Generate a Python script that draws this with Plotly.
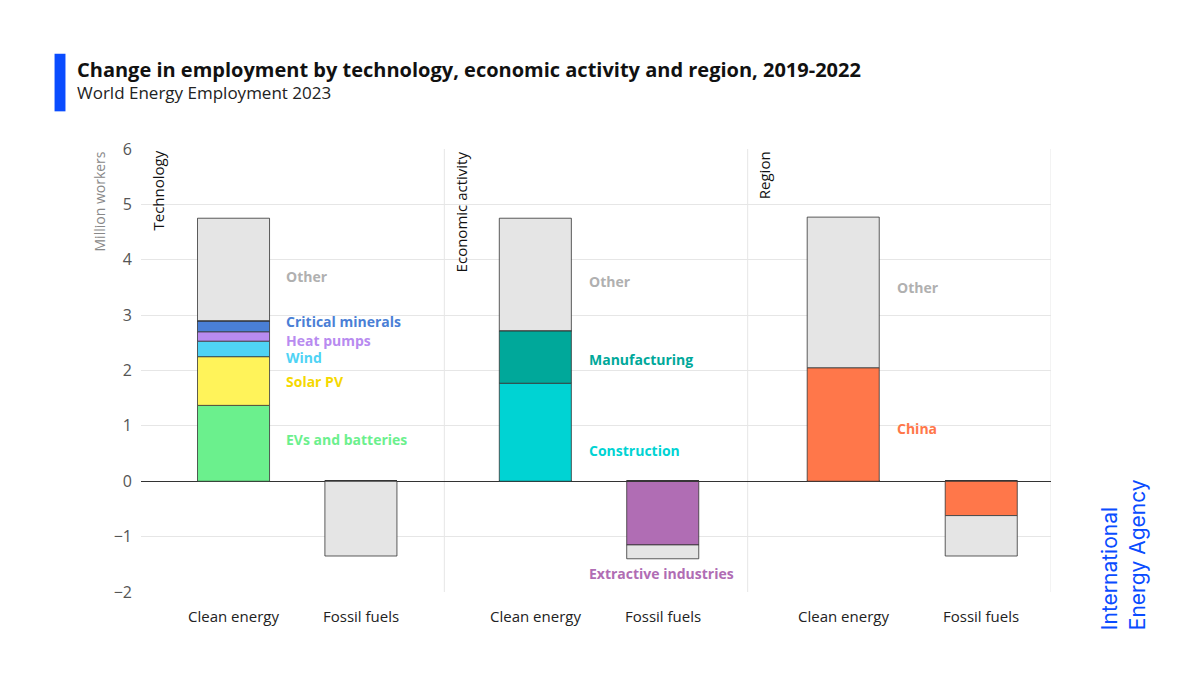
import plotly.graph_objects as go

# bar positions on a 0-6 numeric axis (two bars per panel)
positions = [0.61, 1.45, 2.60, 3.44, 4.63, 5.54]
x_labels = ["Clean energy", "Fossil fuels"] * 3
panel_titles = ["Technology", "Economic activity", "Region"]

# (label, colour, values per position)
segments = [
    ("EVs and batteries", "#6bf08d", [1.37, 0, 0, 0, 0, 0]),
    ("Solar PV", "#fff35a", [0.88, 0, 0, 0, 0, 0]),
    ("Wind", "#4fd3f5", [0.28, 0, 0, 0, 0, 0]),
    ("Heat pumps", "#b88bf0", [0.17, 0, 0, 0, 0, 0]),
    ("Critical minerals", "#4a7fd6", [0.20, 0, 0, 0, 0, 0]),
    ("Construction", "#00d3d3", [0, 0, 1.77, 0, 0, 0]),
    ("Manufacturing", "#00a89a", [0, 0, 0.95, 0, 0, 0]),
    ("Extractive industries", "#b06db4", [0, 0, 0, -1.15, 0, 0]),
    ("China", "#ff774a", [0, 0, 0, 0, 2.05, -0.62]),
    ("Other", "#e5e5e5", [1.85, -1.35, 2.03, -0.25, 2.72, -0.73]),
]

# segment labels: text, colour, x, y
seg_labels = [
    ("Other", "#b0b0b0", 0.94, 3.7),
    ("Critical minerals", "#4a7fd6", 0.94, 2.88),
    ("Heat pumps", "#b88bf0", 0.94, 2.55),
    ("Wind", "#4fd3f5", 0.94, 2.24),
    ("Solar PV", "#f5d800", 0.94, 1.8),
    ("EVs and batteries", "#6bf08d", 0.94, 0.75),
    ("Other", "#b0b0b0", 2.94, 3.6),
    ("Manufacturing", "#00a89a", 2.94, 2.2),
    ("Construction", "#00d3d3", 2.94, 0.55),
    ("Extractive industries", "#b06db4", 2.94, -1.67),
    ("China", "#ff774a", 4.97, 0.95),
    ("Other", "#b0b0b0", 4.97, 3.5),
]

fig = go.Figure()
for name, color, vals in segments:
    fig.add_trace(go.Bar(
        x=positions, y=vals, width=0.475, marker=dict(color=color, line=dict(color="#333333", width=0.8)),
        name=name, showlegend=False, hoverinfo="skip",
    ))

for text, color, x, y in seg_labels:
    fig.add_annotation(x=x, y=y, text=f"<b>{text}</b>", showarrow=False, xanchor="left",
                       font=dict(color=color, size=14, family="Open Sans"))

for i, t in enumerate(panel_titles):
    fig.add_annotation(x=i * 2 + 0.03, y=6, text=t, textangle=-90, showarrow=False,
                       xanchor="left", yanchor="top", font=dict(size=15, color="#111111", family="Open Sans"))

for b in [2, 4, 6]:
    fig.add_shape(type="line", x0=b, x1=b, y0=-2, y1=6, xref="x", yref="y",
                  line=dict(color="#e6e6e6", width=1), layer="below")

for x, lab in zip(positions, x_labels):
    fig.add_annotation(x=x, y=-2, yshift=-24, text=lab, showarrow=False,
                       font=dict(size=15, color="#222222", family="Open Sans"))

fig.add_annotation(xref="paper", yref="paper", x=-0.033, y=1.0, xanchor="right", yanchor="top",
                   text="Million workers", textangle=-90, showarrow=False,
                   font=dict(size=14, color="#888888", family="Open Sans"))

fig.add_shape(type="rect", xref="paper", yref="paper", x0=-0.095, x1=-0.083, y0=1.215, y1=1.085,
              fillcolor="#0a4cff", line=dict(width=0))
fig.add_annotation(xref="paper", yref="paper", x=-0.072, y=1.215, xanchor="left", yanchor="top",
                   text="<b>Change in employment by technology, economic activity and region, 2019-2022</b>",
                   showarrow=False, font=dict(size=20, color="#111111", family="Open Sans"))
fig.add_annotation(xref="paper", yref="paper", x=-0.072, y=1.158, xanchor="left", yanchor="top",
                   text="World Energy Employment 2023", showarrow=False,
                   font=dict(size=17, color="#222222", family="Open Sans"))
fig.add_annotation(xref="paper", yref="paper", x=1.08, y=-0.09, xanchor="center", yanchor="bottom",
                   text="International<br>Energy Agency", textangle=-90, showarrow=False,
                   font=dict(size=21, color="#0a4cff", family="Inter"), align="left")

fig.update_layout(
    width=1200, height=675, barmode="relative", plot_bgcolor="white", paper_bgcolor="white",
    margin=dict(l=133, r=157, t=141, b=91),
    xaxis=dict(range=[0, 6], showticklabels=False, showgrid=False, zeroline=False),
    yaxis=dict(range=[-2, 6], dtick=1, gridcolor="#e6e6e6", zeroline=True, zerolinecolor="#333333",
               zerolinewidth=1, ticklabelstandoff=8,
               tickfont=dict(size=16, color="#555555", family="Open Sans")),
)
fig.write_html("out.html")
